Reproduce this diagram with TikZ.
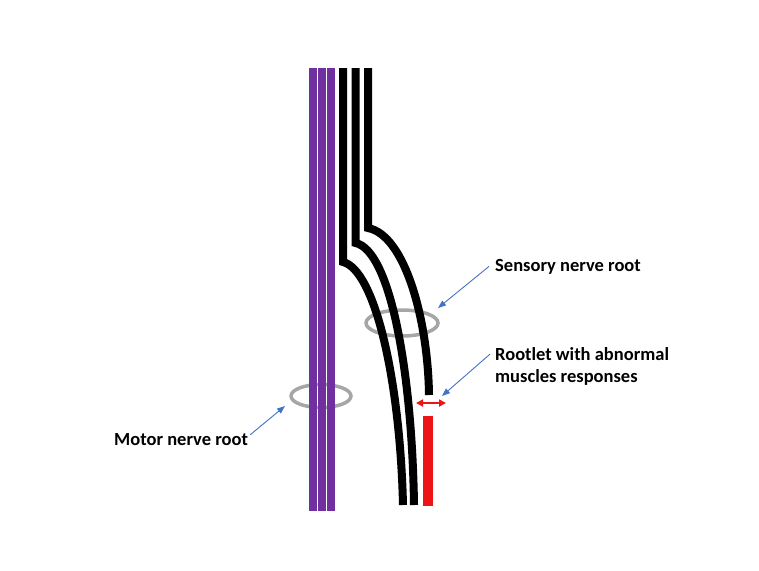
\documentclass[tikz,border=0pt]{standalone}
\usepackage{fontspec}
\setmainfont{Carlito}
\usetikzlibrary{arrows.meta,calc}
\definecolor{motorpurple}{RGB}{112,48,160}
\definecolor{ringgray}{RGB}{166,166,166}
\definecolor{pointblue}{RGB}{68,114,196}
\definecolor{rootred}{RGB}{236,20,20}
\tikzset{
  fibre/.style={line width=7.5pt},
  ring/.style={draw=ringgray,line width=3.5pt},
  pointer/.style={draw=pointblue,line width=0.9pt,-{Triangle[length=8pt,width=6pt]}},
  caption/.style={font=\fontsize{18.5}{22}\selectfont\bfseries,inner sep=2pt,align=left}
}
\begin{document}
\begin{tikzpicture}[x=1pt,y=-1pt,>={Triangle[length=7pt,width=7pt]}]
\useasboundingbox (0,0) rectangle (759,570);

% rings behind the roots
\draw[ring] (321,396) ellipse (30 and 11.5);
\draw[ring] (402,323) ellipse (36 and 13);

% motor root
\foreach \x in {313,322,331}
  \draw[fibre,motorpurple] (\x,68)--(\x,511);

% sensory rootlets
\draw[fibre,line width=8pt] (343,68)--(343,262)
    .. controls (375,270) and (400,380) .. (403,505);
\draw[fibre,line width=8pt] (355.5,68)--(355.5,243)
    .. controls (390,250) and (412,370) .. (414,505);
\draw[fibre,line width=8pt] (368,68)--(368,228)
    .. controls (405,235) and (428,320) .. (429,395);
\draw[rootred,line width=10pt] (428,416)--(428,506);

\coordinate (gapL) at (416,403);
\coordinate (gapR) at (446,403);
\draw[<->,rootred,line width=2pt] (gapL)--(gapR);

% labels
\node[caption,anchor=base west] (sensory) at (493,271) {Sensory nerve root};
\node[caption,anchor=base west] (rootlet) at (493,382)
    {Rootlet with abnormal\\muscles responses};
\node[caption,anchor=base west] (motor) at (112,445) {Motor nerve root};

\coordinate (sensorytip) at (438,308);
\coordinate (rootlettip) at (442,396);
\coordinate (motortip) at (285,406);
\draw[pointer] ($(sensory.west)+(-4,0)$)--(sensorytip);
\draw[pointer] ($(rootlet.north west)!0.22!(rootlet.south west)+(-3,0)$)--(rootlettip);
\draw[pointer] ($(motor.north east)+(0,4)$)--(motortip);
\end{tikzpicture}
\end{document}
